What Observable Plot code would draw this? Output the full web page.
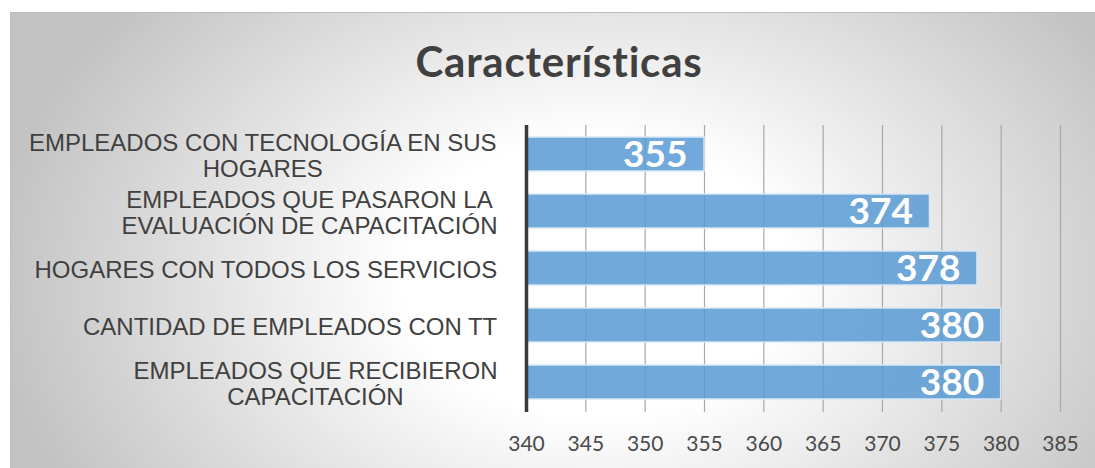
<!DOCTYPE html>
<html><head><meta charset="utf-8">
<script src="https://cdn.jsdelivr.net/npm/d3@7"></script>
<script src="https://cdn.jsdelivr.net/npm/@observablehq/plot@0.6"></script>
<style>
body{margin:0;background:#fff;}
#wrap{position:relative;width:1095px;height:468px;overflow:hidden;}
#frame{position:absolute;left:10px;top:12px;width:1090px;height:470px;border:1px solid #bdbdbd;
 background:radial-gradient(ellipse 600px 430px at 585px 265px,#ffffff 32%,#c3c3c3 100%);}
#title{position:absolute;left:10px;width:1098px;top:36px;line-height:50px;text-align:center;
 font-family:Lato,sans-serif;font-weight:bold;font-size:42px;letter-spacing:0.8px;color:#404040;}
#chart{position:absolute;left:0;top:0;}
</style></head>
<body><div id="wrap"><div id="frame"></div><div id="title">Características</div><div id="chart"></div></div>
<script>
const categories = [
  "EMPLEADOS CON TECNOLOGÍA EN SUS HOGARES",
  "EMPLEADOS QUE PASARON LA EVALUACIÓN DE CAPACITACIÓN",
  "HOGARES CON TODOS LOS SERVICIOS",
  "CANTIDAD DE EMPLEADOS CON TT",
  "EMPLEADOS QUE RECIBIERON CAPACITACIÓN"
];
const labelLines = [
  ["EMPLEADOS CON TECNOLOGÍA EN SUS", "HOGARES"],
  ["EMPLEADOS QUE PASARON LA ", "EVALUACIÓN DE CAPACITACIÓN"],
  ["HOGARES CON TODOS LOS SERVICIOS"],
  ["CANTIDAD DE EMPLEADOS CON TT"],
  ["EMPLEADOS QUE RECIBIERON", "CAPACITACIÓN"]
];
const values = [355, 374, 378, 380, 380];
const tickValues = [340, 345, 350, 355, 360, 365, 370, 375, 380, 385];

const data = categories.map((c, i) => ({cat: c, value: values[i]}));

const labelFont = "Liberation Sans, Arial, sans-serif";
const labelSize = 24;
const cv = document.createElement("canvas").getContext("2d");
cv.font = `${labelSize}px ${labelFont}`;
const gap = 29;

const labelMarks = categories.map((c, i) => {
  const lines = labelLines[i];
  const w = Math.max(...lines.map(l => cv.measureText(l.trim()).width));
  return Plot.text([{cat: c, t: lines.map(l => l.trim()).join("\n")}], {
    x: () => 340, y: "cat", text: "t",
    textAnchor: "middle", lineAnchor: "middle", lineHeight: 1.11,
    dx: -(gap + w / 2), dy: 1,
    fill: "#404040", fontSize: labelSize, fontFamily: labelFont
  });
});

const chart = Plot.plot({
  width: 1095, height: 468,
  marginLeft: 526, marginRight: 35, marginTop: 125, marginBottom: 56,
  style: {background: "transparent", overflow: "visible"},
  x: {domain: [340, 385]},
  y: {domain: categories, paddingInner: 0.4, paddingOuter: 0.2, axis: null},
  marks: [
    Plot.ruleX(tickValues.slice(1), {stroke: "#a8a8a8", strokeWidth: 1.2}),
    Plot.barX(data, {x1: () => 340, x2: "value", y: "cat", fill: "#5b9bd5", fillOpacity: 0.86,
      stroke: "#d6e6f5", strokeWidth: 1.5}),
    Plot.ruleX([340], {stroke: "#3a3a3a", strokeWidth: 3.5}),
    Plot.text(data, {x: "value", y: "cat", text: d => String(d.value), textAnchor: "end",
      dx: -17, dy: 1, fill: "white", fontWeight: "bold", fontSize: 37, fontFamily: "Lato, sans-serif"}),
    ...labelMarks,
    Plot.axisX({ticks: tickValues, tickSize: 0, tickPadding: 24, tickFormat: d => String(d),
      fontSize: 21, fontFamily: "Lato, sans-serif", color: "#4a4a4a", label: null})
  ]
});
document.getElementById("chart").appendChild(chart);
</script>
</body></html>
